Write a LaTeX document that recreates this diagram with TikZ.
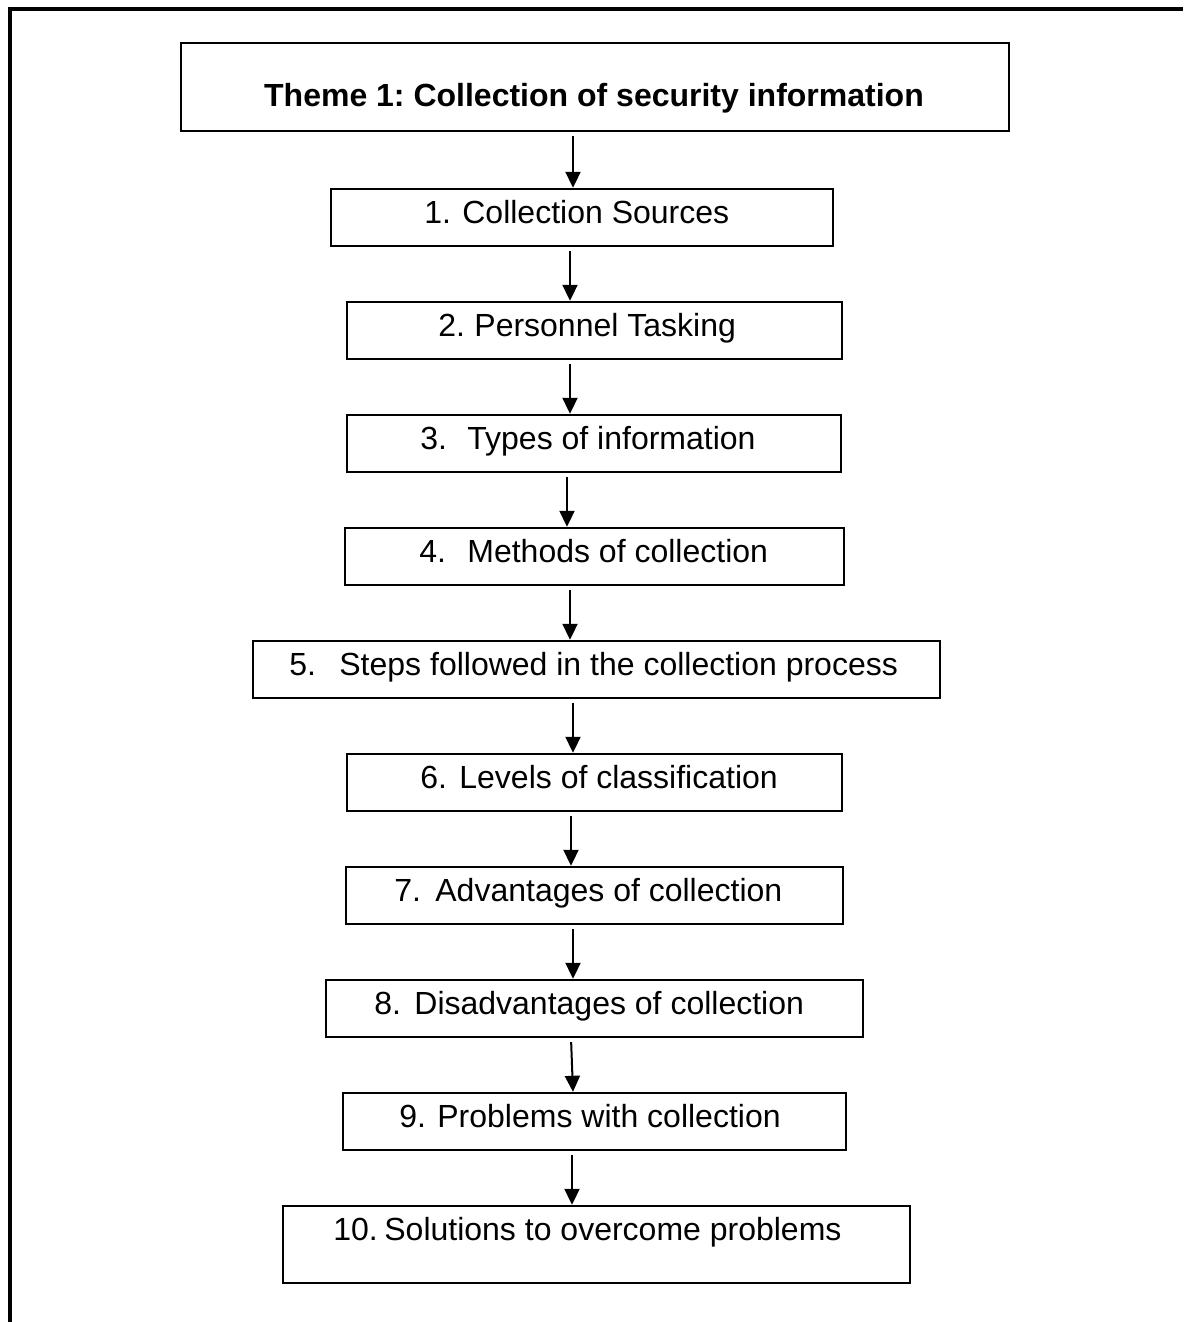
\documentclass[tikz,border=0pt]{standalone}
\usepackage{fontspec}
\setmainfont{Liberation Sans}
\usetikzlibrary{arrows.meta}
\frenchspacing
% number + tab-stop text of a list entry
\newcommand\numlab[3]{\makebox[#1][l]{#2}#3}
\begin{document}
\begin{tikzpicture}[x=0.5pt,y=-0.5pt,
  box/.style={draw, line width=1.2pt, inner sep=0pt},
  lbl/.style={anchor=base west, inner sep=0pt, font=\fontsize{16}{19}\selectfont},
  ttl/.style={anchor=base, inner sep=0pt, font=\fontsize{16}{19}\selectfont\bfseries},
  arr/.style={line width=1pt, -{Triangle[length=8pt,width=7.5pt]}, shorten <=2pt},
  frame/.style={line width=1.75pt}]
\useasboundingbox (0,0) rectangle (1183,1322);

% page frame (top and left edges)
\draw[frame] (8,9) -- (1183,9);
\draw[frame] (10,7) -- (10,1322);

% title box
\node[box, minimum width=414pt, minimum height=44pt] (th) at (595,87) {};
\node[ttl] (tht) at (594,106) {Theme 1: Collection of security information};

% step boxes
\node[box, minimum width=251pt,   minimum height=28.5pt] (b1)  at (582,217.5)  {};
\node[box, minimum width=247.5pt, minimum height=28.5pt] (b2)  at (594.5,330.5) {};
\node[box, minimum width=247pt,   minimum height=28.5pt] (b3)  at (594,443.5)  {};
\node[box, minimum width=249.5pt, minimum height=28.5pt] (b4)  at (594.5,556.5) {};
\node[box, minimum width=343.5pt, minimum height=28.5pt] (b5)  at (596.5,669.5) {};
\node[box, minimum width=247.5pt, minimum height=28.5pt] (b6)  at (594.5,782.5) {};
\node[box, minimum width=248.5pt, minimum height=28.5pt] (b7)  at (594.5,895.5) {};
\node[box, minimum width=268.5pt, minimum height=28.5pt] (b8)  at (594.5,1008.5) {};
\node[box, minimum width=251.5pt, minimum height=28.5pt] (b9)  at (594.5,1121.5) {};
\node[box, minimum width=313.5pt, minimum height=38.5pt] (b10) at (596.5,1244.5) {};

% step labels
\node[lbl] (t1)  at (424,223)  {\numlab{19pt}{1.}{Collection Sources}};
\node[lbl] (t2)  at (438,336)  {\numlab{18pt}{2.}{Personnel Tasking}};
\node[lbl] (t3)  at (420,449)  {\numlab{23.5pt}{3.}{Types of information}};
\node[lbl] (t4)  at (419,562)  {\numlab{24pt}{4.}{Methods of collection}};
\node[lbl] (t5)  at (289,675)  {\numlab{25pt}{5.}{Steps followed in the collection process}};
\node[lbl] (t6)  at (420,788)  {\numlab{19.5pt}{6.}{Levels of classification}};
\node[lbl] (t7)  at (394,901)  {\numlab{20.5pt}{7.}{Advantages of collection}};
\node[lbl] (t8)  at (374,1014) {\numlab{20pt}{8.}{Disadvantages of collection}};
\node[lbl] (t9)  at (399,1127) {\numlab{19pt}{9.}{Problems with collection}};
\node[lbl] (t10) at (333,1240) {\numlab{25.5pt}{10.}{Solutions to overcome problems}};

% connectors
\draw[arr] (th.south -| 573,0) -- (b1.north -| 573,0);
\draw[arr] (b1.south -| 570,0) -- (b2.north -| 570,0);
\draw[arr] (b2.south -| 570,0) -- (b3.north -| 570,0);
\draw[arr] (b3.south -| 567,0) -- (b4.north -| 567,0);
\draw[arr] (b4.south -| 570,0) -- (b5.north -| 570,0);
\draw[arr] (b5.south -| 573,0) -- (b6.north -| 573,0);
\draw[arr] (b6.south -| 571,0) -- (b7.north -| 571,0);
\draw[arr] (b7.south -| 573,0) -- (b8.north -| 573,0);
\draw[arr] (b8.south -| 571,0) -- (b9.north -| 573,0);
\draw[arr] (b9.south -| 572,0) -- (b10.north -| 572,0);
\end{tikzpicture}
\end{document}
